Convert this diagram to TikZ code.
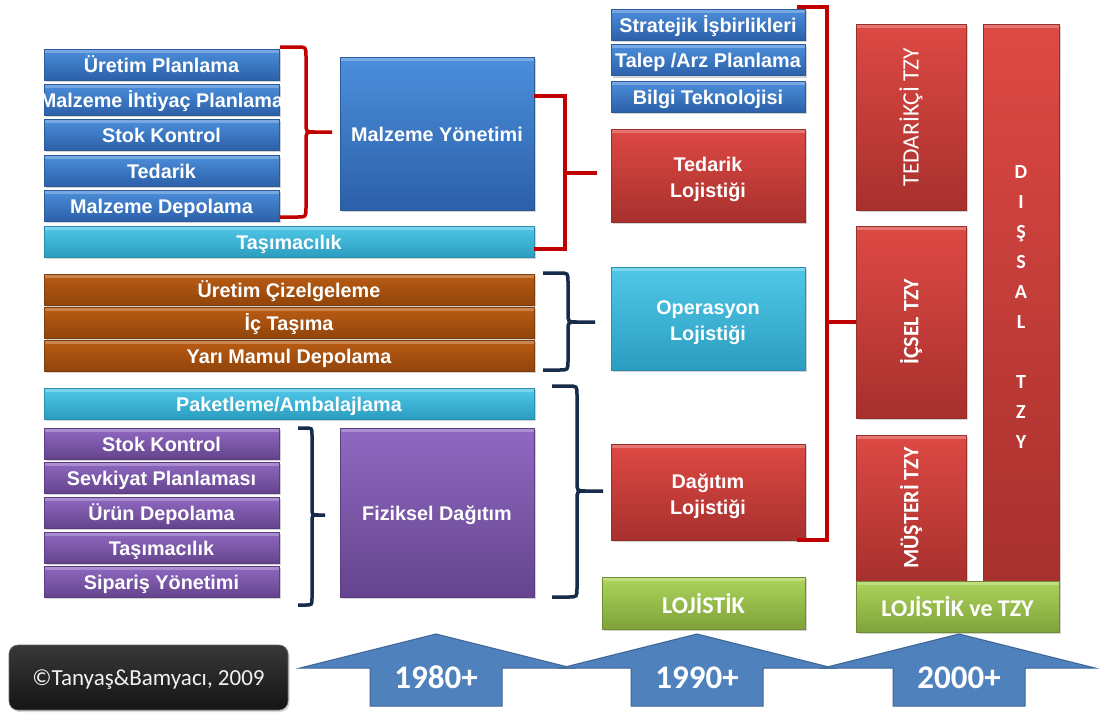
\documentclass[tikz,border=0pt]{standalone}
\usepackage{fontspec}
\setmainfont{Liberation Sans}
\newfontfamily\calib{Carlito}
\usetikzlibrary{shadows}

\definecolor{bluT}{HTML}{4C8FDC}
\definecolor{bluB}{HTML}{2C60A8}
\definecolor{bluE}{HTML}{2A5A98}
\definecolor{redT}{HTML}{DE4944}
\definecolor{redB}{HTML}{A7302D}
\definecolor{redE}{HTML}{97302C}
\definecolor{cyaT}{HTML}{50C8E8}
\definecolor{cyaB}{HTML}{2B9DC0}
\definecolor{cyaE}{HTML}{2A8FAF}
\definecolor{broT}{HTML}{BA5C14}
\definecolor{broB}{HTML}{91450B}
\definecolor{broE}{HTML}{7E3D0A}
\definecolor{purT}{HTML}{9069C2}
\definecolor{purB}{HTML}{64448D}
\definecolor{purE}{HTML}{5A3E80}
\definecolor{greT}{HTML}{ADD45C}
\definecolor{greB}{HTML}{7FA23A}
\definecolor{greE}{HTML}{6D8E31}
\definecolor{arrF}{HTML}{4F81BD}
\definecolor{arrE}{HTML}{3D6698}
\definecolor{brkRed}{HTML}{C00000}
\definecolor{brkNavy}{HTML}{172B4A}

\newcommand\bxfont{\bfseries\fontsize{19.8}{26}\selectfont}

% curly brace: colour, x0, xv, xtip, top, mid, bottom, radius
\newcommand\curlybrace[8]{%
  \draw[#1] (#2,#5) -- ({#3-#8},#5) .. controls (#3,#5) .. (#3,{#5+#8})
    -- (#3,{#6-#8}) .. controls (#3,#6) .. ({#3+#8},#6) -- (#4,#6);
  \draw[#1] (#2,#7) -- ({#3-#8},#7) .. controls (#3,#7) .. (#3,{#7-#8})
    -- (#3,{#6+#8}) .. controls (#3,#6) .. ({#3+#8},#6);
}

\tikzset{
  boxbase/.style={inner sep=0pt, outer sep=0pt, text=white, font=\bxfont,
    align=center, line width=0.5pt,
    drop shadow={shadow xshift=1.5pt, shadow yshift=-2pt, opacity=0.35},
    path picture={\fill[white,opacity=0.25]
      (path picture bounding box.north west) rectangle
      ([yshift=-3.5pt]path picture bounding box.north east);}},
  oneline/.style={text height=17pt, text depth=2pt},
  twoline/.style={text height=45pt, text depth=1pt},
  freetext/.style={text height=, text depth=},
  bluebox/.style={boxbase, top color=bluT, bottom color=bluB, draw=bluE, oneline},
  redbox/.style={boxbase, top color=redT, bottom color=redB, draw=redE, oneline},
  cyanbox/.style={boxbase, top color=cyaT, bottom color=cyaB, draw=cyaE, oneline},
  brownbox/.style={boxbase, top color=broT, bottom color=broB, draw=broE, oneline},
  purplebox/.style={boxbase, top color=purT, bottom color=purB, draw=purE, oneline},
  greenbox/.style={boxbase, top color=greT, bottom color=greB, draw=greE,
    font=\calib\bfseries\fontsize{24}{28}\selectfont, text height=21pt, text depth=1pt},
  sz/.style 2 args={minimum width=#1pt, minimum height=#2pt},
  redline/.style={draw=brkRed, line width=3.5pt},
  navyline/.style={draw=brkNavy, line width=3.5pt},
  yarrow/.style={fill=arrF, draw=arrE, line width=1pt, line join=miter},
  yearlbl/.style={text=white, font=\calib\bfseries\fontsize{33}{36}\selectfont,
    inner sep=0pt, text height=20pt, text depth=2pt},
}

\begin{document}
\begin{tikzpicture}[x=1pt,y=-1pt]
\fill[white] (0,0) rectangle (1104,713);
\useasboundingbox (0,0) rectangle (1104,713);

% ---- materials management group
\node[bluebox, sz={235}{31}] (up) at (161.5,64.5) {Üretim Planlama};
\node[bluebox, sz={235}{31}] (mip) at (161.5,99.5) {\makebox[0pt]{Malzeme İhtiyaç Planlama}};
\node[bluebox, sz={235}{31}] (sk1) at (161.5,134.5) {Stok Kontrol};
\node[bluebox, sz={235}{31}] (ted) at (161.5,170.5) {Tedarik};
\node[bluebox, sz={235}{31}] (mdep) at (161.5,205.5) {Malzeme Depolama};
\node[cyanbox, sz={490}{31}] (tas1) at (289,241.5) {Taşımacılık};
\node[bluebox, sz={194}{153}] (my) at (437,133.5) {Malzeme Yönetimi};

% ---- operations group
\node[brownbox, sz={490}{31}] (uc) at (289,289.5) {Üretim Çizelgeleme};
\node[brownbox, sz={490}{31}] (ict) at (289,322.5) {İç Taşıma};
\node[brownbox, sz={490}{31}] (ymd) at (289,355.5) {Yarı Mamul Depolama};

% ---- physical distribution group
\node[cyanbox, sz={490}{31}] (pak) at (289,403.5) {Paketleme/Ambalajlama};
\node[purplebox, sz={235}{31}] (sk2) at (161.5,443.5) {Stok Kontrol};
\node[purplebox, sz={235}{31}] (sev) at (161.5,477.5) {Sevkiyat Planlaması};
\node[purplebox, sz={235}{31}] (urd) at (161.5,512.5) {Ürün Depolama};
\node[purplebox, sz={235}{31}] (tas2) at (161.5,547.5) {Taşımacılık};
\node[purplebox, sz={235}{31}] (sip) at (161.5,581.5) {Sipariş Yönetimi};
\node[purplebox, sz={194}{169}] (fd) at (437,512.5) {Fiziksel Dağıtım};

% ---- logistics column
\node[bluebox, sz={194}{31}] (sib) at (708,24.5) {Stratejik İşbirlikleri};
\node[bluebox, sz={194}{31}] (tap) at (708,60) {Talep /Arz Planlama};
\node[bluebox, sz={194}{31}] (bt) at (708,96.5) {Bilgi Teknolojisi};
\node[redbox, twoline, sz={194}{93}] (tl) at (708,175.5) {Tedarik\\Lojistiği};
\node[cyanbox, twoline, sz={194}{103}] (ol) at (708,318.5) {Operasyon\\Lojistiği};
\node[redbox, twoline, sz={194}{96}] (dl) at (708,492) {Dağıtım\\Lojistiği};
\node[greenbox, sz={203}{52}] (loj) at (703.5,603) {LOJİSTİK};

% ---- supply chain management column
\node[redbox, freetext, sz={110}{186}, font=\calib\fontsize{23.5}{28}\selectfont] (tt) at (911,117) {\rotatebox{90}{TEDARİKÇİ TZY}};
\node[redbox, freetext, sz={110}{192}, font=\calib\bfseries\fontsize{22}{26}\selectfont] (it) at (911,322) {\rotatebox{90}{İÇSEL TZY}};
\node[redbox, freetext, sz={110}{146}, font=\calib\bfseries\fontsize{22}{26}\selectfont] (mt) at (911,508) {\rotatebox{90}{MÜŞTERİ TZY}};
\node[redbox, freetext, sz={76}{557}] (dt) at (1021,302.5) {};
\node[text=white, align=center, inner sep=0pt, font=\calib\bfseries\fontsize{20}{30}\selectfont]
  (dtx) at ([yshift=-5pt]dt.center) {D\\I\\Ş\\S\\A\\L\\[30pt]T\\Z\\Y};
\node[greenbox, sz={203}{51}] (lt) at (957.5,606.5) {LOJİSTİK ve TZY};

% ---- brackets
\curlybrace{redline}{280}{306}{332}{47}{132}{217}{9}
\curlybrace{navyline}{543}{568}{595}{273}{322}{370}{9}
\curlybrace{navyline}{552}{577}{603}{386}{491}{597}{9}
\curlybrace{navyline}{298}{312}{325}{428}{515}{605}{7}

\coordinate (mtip) at (597,173);
\draw[redline] (my.east |- 0,96) -| (mtip -| 565,0) |- (tas1.east |- 0,249);
\draw[redline] (mtip -| 565,0) -- (mtip);

\draw[redline] ([xshift=-8pt]sib.north east |- 0,7) -| (827,540) -- ([xshift=-8pt]dl.south east);
\draw[redline] (827,322) -- (it.west);

% ---- time line
\node[inner sep=0pt, sz={279}{65}, rounded corners=9pt, top color=black!78, bottom color=black!92,
  draw=black!60, line width=0.6pt, text=black!5, font=\calib\fontsize{23}{26}\selectfont,
  text height=17pt, text depth=2pt,
  drop shadow={shadow xshift=1.5pt, shadow yshift=-2pt, opacity=0.3}]
  (cp) at (148.5,677.5) {©Tanyaş\&Bamyacı, 2009};

\foreach \c in {436, 697, 959}{
  \draw[yarrow] ({\c-136},668) -- (\c,634) -- ({\c+136},668) -- ({\c+66},668)
    -- ({\c+66},706) -- ({\c-66},706) -- ({\c-66},668) -- cycle;
}
\node[yearlbl] (y80) at (436,679) {1980+};
\node[yearlbl] (y90) at (697,679) {1990+};
\node[yearlbl] (y00) at (959,679) {2000+};
\end{tikzpicture}
\end{document}
